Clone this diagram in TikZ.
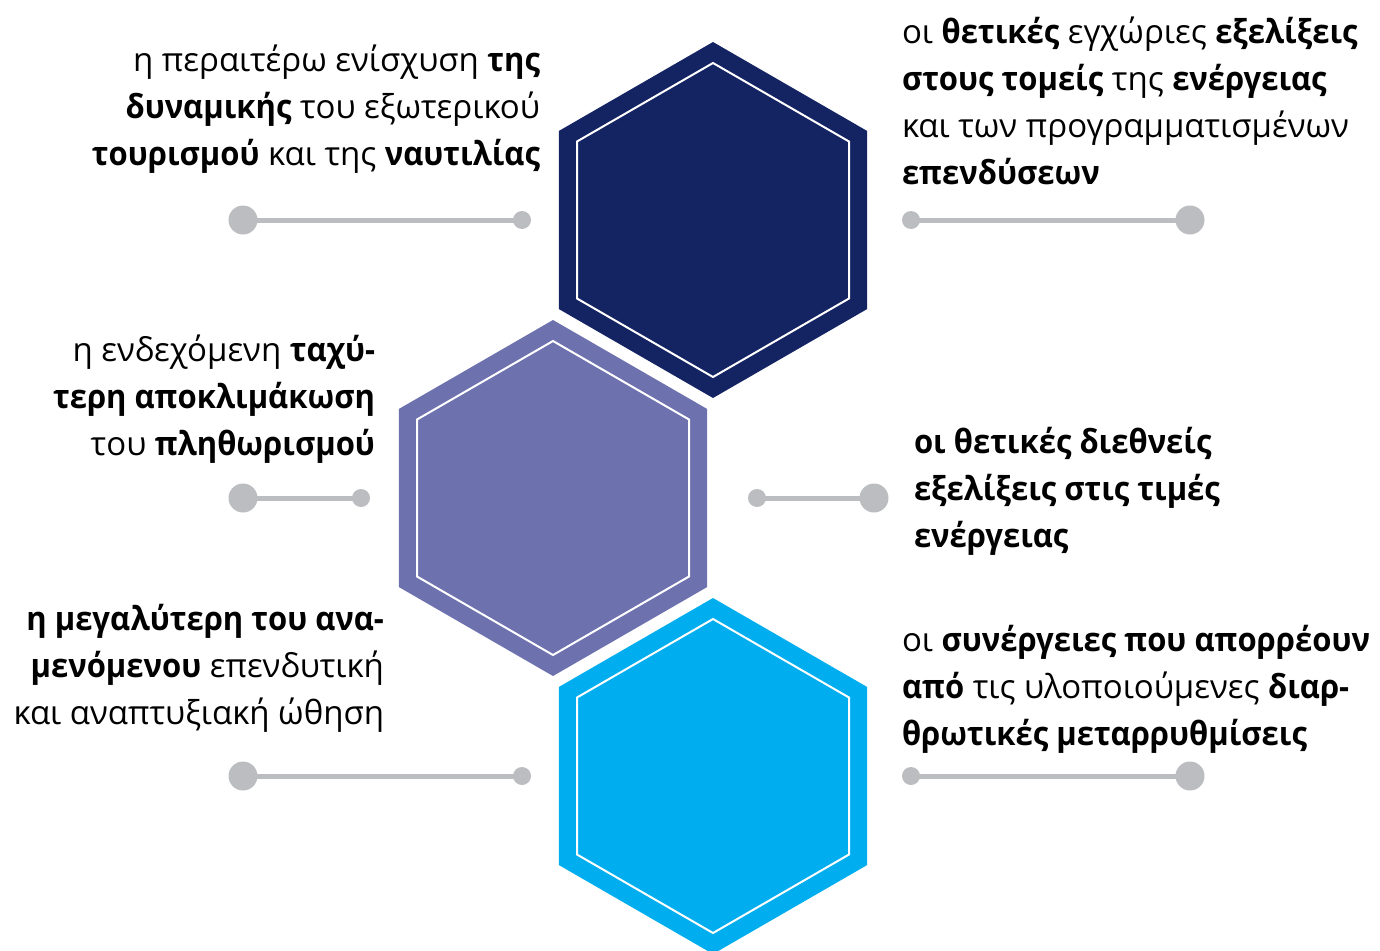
\documentclass[tikz,border=0pt]{standalone}
\usepackage{fontspec}
\setmainfont{Open Sans}[BoldFeatures={FakeStretch=0.94}]
\definecolor{hexnavy}{HTML}{142361}
\definecolor{hexpurple}{HTML}{6D71AE}
\definecolor{hexcyan}{HTML}{00AEEF}
\definecolor{dotgray}{HTML}{BCBDC0}
\tikzset{
  hexagon/.pic={
    \fill[pic actions] (0,-178) -- (154.2,-89) -- (154.2,89) -- (0,178) -- (-154.2,89) -- (-154.2,-89) -- cycle;
    \draw[white, line width=2pt, line join=miter] (0,-157) -- (136,-78.5) -- (136,78.5) -- (0,157) -- (-136,78.5) -- (-136,-78.5) -- cycle;
  },
  bigdot/.style={circle, fill=dotgray, minimum size=29pt, inner sep=0pt, outer sep=0pt},
  smalldot/.style={circle, fill=dotgray, minimum size=18pt, inner sep=0pt, outer sep=0pt},
  conn/.style={draw=dotgray, line width=5pt},
  lbl/.style={inner sep=0pt, outer sep=0pt, text=black, font=\fontsize{33pt}{47pt}\selectfont},
  lblL/.style={lbl, align=right, anchor=base east},
  lblR/.style={lbl, align=left, anchor=base west},
}
\begin{document}
\begin{tikzpicture}[x=1pt,y=-1pt]
\useasboundingbox (0,0) rectangle (1380,950);
% hexagons
\pic[fill=hexnavy]   at (713,220) {hexagon};
\pic[fill=hexpurple] at (553,498) {hexagon};
\pic[fill=hexcyan]   at (713,776) {hexagon};
% connector dots
\node[bigdot]   (d1a) at (243,220) {};
\node[smalldot] (d1b) at (522,220) {};
\node[smalldot] (d2a) at (911,220) {};
\node[bigdot]   (d2b) at (1190,220) {};
\node[bigdot]   (d3a) at (243,498) {};
\node[smalldot] (d3b) at (361,498) {};
\node[smalldot] (d4a) at (757,498) {};
\node[bigdot]   (d4b) at (874,498) {};
\node[bigdot]   (d5a) at (243,776) {};
\node[smalldot] (d5b) at (522,776) {};
\node[smalldot] (d6a) at (911,776) {};
\node[bigdot]   (d6b) at (1190,776) {};
\draw[conn] (d1a.center) -- (d1b.center);
\draw[conn] (d2a.center) -- (d2b.center);
\draw[conn] (d3a.center) -- (d3b.center);
\draw[conn] (d4a.center) -- (d4b.center);
\draw[conn] (d5a.center) -- (d5b.center);
\draw[conn] (d6a.center) -- (d6b.center);
% texts (anchor = baseline of the last line)
\node[lblL] (t1) at (540,165) {η περαιτέρω ενίσχυση \textbf{της}\\\textbf{δυναμικής} του εξωτερικού\\\textbf{τουρισμού} και της \textbf{ναυτιλίας}};
\node[lblR] (t2) at (902,184) {οι \textbf{θετικές} εγχώριες \textbf{εξελίξεις}\\\textbf{στους τομείς} της \textbf{ενέργειας}\\και των προγραμματισμένων\\\textbf{επενδύσεων}};
\node[lblL] (t3) at (375,455) {η ενδεχόμενη \textbf{ταχύ-}\\\textbf{τερη αποκλιμάκωση}\\του \textbf{πληθωρισμού}};
\node[lblR] (t4) at (914,547) {\textbf{οι θετικές διεθνείς}\\\textbf{εξελίξεις στις τιμές}\\\textbf{ενέργειας}};
\node[lblL] (t5) at (384,724) {\textbf{η μεγαλύτερη του ανα-}\\\textbf{μενόμενου} επενδυτική\\και αναπτυξιακή ώθηση};
\node[lblR] (t6) at (902,745) {οι \textbf{συνέργειες που απορρέουν}\\\textbf{από} τις υλοποιούμενες \textbf{διαρ-}\\\textbf{θρωτικές μεταρρυθμίσεις}};
\end{tikzpicture}
\end{document}
